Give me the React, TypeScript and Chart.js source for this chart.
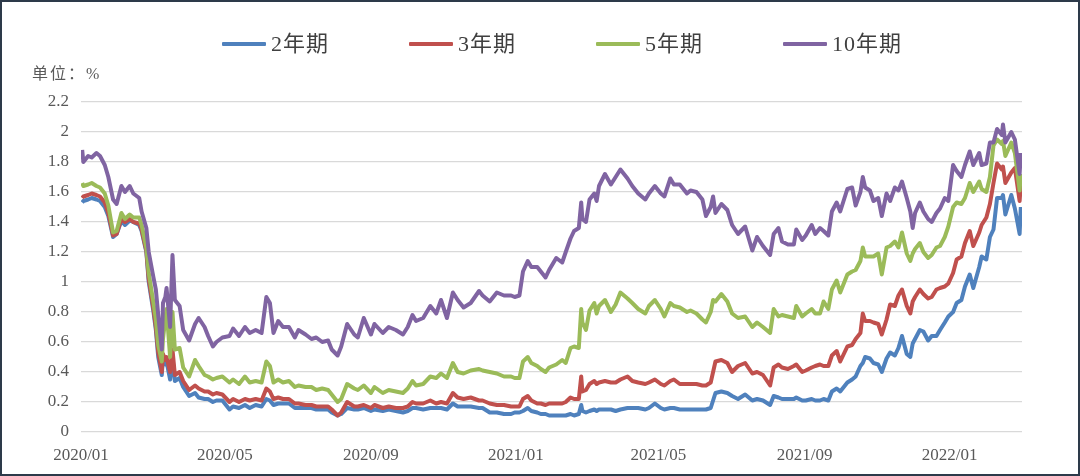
import React, { useEffect, useRef } from 'react';
import { Chart, registerables } from 'chart.js';

Chart.register(...registerables);

// trading dates (roughly weekly, denser where the lines jump)
const dates = [
  // 2020
  '2020-01-02', '2020-01-03', '2020-01-07', '2020-01-10', '2020-01-14', '2020-01-17', '2020-01-21', '2020-01-24', '2020-01-28', '2020-01-31',
  '2020-02-04', '2020-02-07', '2020-02-11', '2020-02-14', '2020-02-19', '2020-02-21', '2020-02-25', '2020-02-27',
  '2020-03-02', '2020-03-04', '2020-03-06', '2020-03-09', '2020-03-10', '2020-03-12', '2020-03-13', '2020-03-16', '2020-03-18', '2020-03-20', '2020-03-24', '2020-03-27',
  '2020-04-01', '2020-04-06', '2020-04-09', '2020-04-14', '2020-04-17', '2020-04-21', '2020-04-24', '2020-04-29',
  '2020-05-05', '2020-05-08', '2020-05-13', '2020-05-18', '2020-05-22', '2020-05-27',
  '2020-06-01', '2020-06-05', '2020-06-08', '2020-06-11', '2020-06-15', '2020-06-19', '2020-06-24', '2020-06-29',
  '2020-07-02', '2020-07-08', '2020-07-13', '2020-07-17', '2020-07-22', '2020-07-27', '2020-07-30',
  '2020-08-04', '2020-08-07', '2020-08-12', '2020-08-18', '2020-08-21', '2020-08-26',
  '2020-09-01', '2020-09-04', '2020-09-11', '2020-09-16', '2020-09-22', '2020-09-28',
  '2020-10-02', '2020-10-06', '2020-10-09', '2020-10-15', '2020-10-21', '2020-10-26', '2020-10-30',
  '2020-11-04', '2020-11-09', '2020-11-13', '2020-11-18', '2020-11-24',
  '2020-12-01', '2020-12-04', '2020-12-10', '2020-12-16', '2020-12-22', '2020-12-28', '2020-12-31',
  // 2021
  '2021-01-04', '2021-01-07', '2021-01-11', '2021-01-14', '2021-01-19', '2021-01-22', '2021-01-26', '2021-01-29',
  '2021-02-04', '2021-02-09', '2021-02-12', '2021-02-16', '2021-02-19', '2021-02-23', '2021-02-25', '2021-02-26',
  '2021-03-01', '2021-03-04', '2021-03-08', '2021-03-10', '2021-03-12', '2021-03-17', '2021-03-22', '2021-03-26', '2021-03-30',
  '2021-04-05', '2021-04-09', '2021-04-14', '2021-04-20', '2021-04-23', '2021-04-28',
  '2021-05-03', '2021-05-06', '2021-05-11', '2021-05-14', '2021-05-19', '2021-05-25', '2021-05-28',
  '2021-06-02', '2021-06-07', '2021-06-10', '2021-06-14', '2021-06-16', '2021-06-18', '2021-06-23', '2021-06-28',
  '2021-07-02', '2021-07-07', '2021-07-13', '2021-07-19', '2021-07-23', '2021-07-28',
  '2021-08-03', '2021-08-06', '2021-08-10', '2021-08-13', '2021-08-18', '2021-08-23', '2021-08-25', '2021-08-30',
  '2021-09-02', '2021-09-07', '2021-09-10', '2021-09-14', '2021-09-17', '2021-09-21', '2021-09-24', '2021-09-28',
  '2021-10-01', '2021-10-07', '2021-10-11', '2021-10-14', '2021-10-18', '2021-10-20', '2021-10-22', '2021-10-26', '2021-10-29',
  '2021-11-02', '2021-11-05', '2021-11-09', '2021-11-12', '2021-11-16', '2021-11-19', '2021-11-22', '2021-11-26', '2021-11-29',
  '2021-12-01', '2021-12-03', '2021-12-07', '2021-12-10', '2021-12-14', '2021-12-17', '2021-12-21', '2021-12-24', '2021-12-28', '2021-12-31',
  // 2022
  '2022-01-04', '2022-01-07', '2022-01-11', '2022-01-14', '2022-01-18', '2022-01-21', '2022-01-26', '2022-01-28',
  '2022-02-01', '2022-02-04', '2022-02-07', '2022-02-10', '2022-02-14', '2022-02-15', '2022-02-17', '2022-02-22', '2022-02-25',
  '2022-03-01', '2022-03-02',
];

// 2年期
const y2 = [
  1.53, 1.54, 1.55, 1.56, 1.55, 1.54, 1.50, 1.44, 1.30, 1.32,
  1.41, 1.38, 1.41, 1.40, 1.38, 1.34, 1.20, 1.00,
  0.80, 0.68, 0.50, 0.38, 0.50, 0.45, 0.47, 0.35, 0.50, 0.34, 0.36, 0.30,
  0.24, 0.26, 0.23, 0.22, 0.22, 0.20, 0.21, 0.21,
  0.15, 0.17, 0.16, 0.18, 0.16, 0.18,
  0.17, 0.22, 0.21, 0.18, 0.19, 0.19, 0.19, 0.16,
  0.16, 0.16, 0.16, 0.15, 0.15, 0.15, 0.13,
  0.11, 0.12, 0.16, 0.15, 0.15, 0.16,
  0.14, 0.15, 0.14, 0.15, 0.14, 0.13,
  0.14, 0.16, 0.16, 0.15, 0.16, 0.16, 0.16,
  0.15, 0.19, 0.17, 0.17, 0.17,
  0.16, 0.16, 0.13, 0.13, 0.12, 0.12, 0.13,
  0.13, 0.14, 0.16, 0.14, 0.13, 0.12, 0.12, 0.11,
  0.11, 0.11, 0.11, 0.12, 0.11, 0.12, 0.18, 0.14,
  0.13, 0.14, 0.15, 0.14, 0.15, 0.15, 0.15, 0.14, 0.15,
  0.16, 0.16, 0.16, 0.15, 0.16, 0.19,
  0.16, 0.15, 0.16, 0.16, 0.15, 0.15, 0.15,
  0.15, 0.15, 0.15, 0.16, 0.21, 0.26, 0.27, 0.26,
  0.24, 0.22, 0.25, 0.21, 0.22, 0.21,
  0.18, 0.24, 0.23, 0.22, 0.22, 0.22, 0.23, 0.21,
  0.21, 0.22, 0.21, 0.21, 0.22, 0.21, 0.27, 0.29,
  0.27, 0.33, 0.35, 0.37, 0.44, 0.46, 0.50, 0.49, 0.46,
  0.45, 0.40, 0.49, 0.53, 0.51, 0.56, 0.64, 0.52, 0.50,
  0.59, 0.62, 0.68, 0.67, 0.61, 0.64, 0.64, 0.68, 0.73, 0.77,
  0.80, 0.86, 0.88, 0.97, 1.05, 0.96, 1.10, 1.17,
  1.15, 1.30, 1.35, 1.56, 1.56, 1.58, 1.45, 1.58, 1.49,
  1.32, 1.50,
];

// 3年期
const y3 = [
  1.56, 1.57, 1.58, 1.59, 1.58, 1.57, 1.53, 1.46, 1.31, 1.32,
  1.42, 1.40, 1.42, 1.40, 1.39, 1.35, 1.21, 1.02,
  0.82, 0.70, 0.53, 0.40, 0.52, 0.48, 0.50, 0.40, 0.55, 0.38, 0.40, 0.34,
  0.28, 0.31, 0.29, 0.27, 0.27, 0.25, 0.26, 0.25,
  0.20, 0.22, 0.20, 0.22, 0.21, 0.22,
  0.21, 0.29, 0.27, 0.22, 0.23, 0.22, 0.22, 0.19,
  0.19, 0.18, 0.18, 0.17, 0.17, 0.17, 0.15,
  0.11, 0.13, 0.20, 0.17, 0.17, 0.18,
  0.16, 0.18, 0.16, 0.17, 0.16, 0.16,
  0.17, 0.20, 0.19, 0.19, 0.21, 0.19, 0.20,
  0.19, 0.26, 0.23, 0.22, 0.23,
  0.21, 0.21, 0.19, 0.18, 0.18, 0.17, 0.17,
  0.17, 0.22, 0.24, 0.21, 0.19, 0.19, 0.18, 0.19,
  0.19, 0.19, 0.20, 0.23, 0.22, 0.22, 0.37, 0.27,
  0.28, 0.32, 0.34, 0.32, 0.33, 0.34, 0.33, 0.33, 0.35,
  0.37, 0.34, 0.33, 0.32, 0.33, 0.35,
  0.32, 0.31, 0.34, 0.35, 0.32, 0.32, 0.32,
  0.32, 0.31, 0.31, 0.33, 0.40, 0.47, 0.48, 0.46,
  0.40, 0.44, 0.46, 0.39, 0.40, 0.38,
  0.31, 0.43, 0.45, 0.43, 0.42, 0.44, 0.45, 0.40,
  0.41, 0.43, 0.44, 0.45, 0.44, 0.44, 0.51, 0.54,
  0.47, 0.57, 0.58, 0.62, 0.66, 0.79, 0.74, 0.74, 0.73,
  0.72, 0.65, 0.75, 0.85, 0.84, 0.91, 0.95, 0.84, 0.79,
  0.87, 0.90, 0.95, 0.92, 0.89, 0.90, 0.95, 0.96, 0.97, 0.99,
  1.06, 1.15, 1.17, 1.26, 1.34, 1.24, 1.33, 1.38,
  1.43, 1.52, 1.66, 1.79, 1.75, 1.77, 1.66, 1.73, 1.76,
  1.54, 1.65,
];

// 5年期
const y5 = [
  1.66, 1.64, 1.65, 1.66, 1.64, 1.63, 1.59, 1.51, 1.33, 1.34,
  1.46, 1.42, 1.45, 1.43, 1.43, 1.38, 1.23, 1.06,
  0.86, 0.75, 0.58, 0.47, 0.62, 0.76, 0.82, 0.50, 0.80, 0.55, 0.56, 0.43,
  0.37, 0.48, 0.44, 0.38, 0.37, 0.35, 0.36, 0.37,
  0.33, 0.35, 0.32, 0.37, 0.33, 0.34,
  0.33, 0.47, 0.44, 0.33, 0.35, 0.33, 0.34, 0.30,
  0.31, 0.30, 0.30, 0.28, 0.29, 0.28, 0.25,
  0.20, 0.22, 0.32, 0.29, 0.28, 0.31,
  0.26, 0.30, 0.26, 0.28, 0.27, 0.26,
  0.29, 0.34, 0.31, 0.32, 0.37, 0.36, 0.39,
  0.36, 0.46, 0.40, 0.39, 0.41,
  0.42, 0.41, 0.40, 0.39, 0.37, 0.37, 0.36,
  0.36, 0.47, 0.50, 0.46, 0.44, 0.42, 0.40, 0.43,
  0.45, 0.48, 0.46, 0.56, 0.57, 0.56, 0.82, 0.73,
  0.68, 0.81, 0.86, 0.79, 0.84, 0.88, 0.80, 0.85, 0.93,
  0.89, 0.86, 0.82, 0.79, 0.84, 0.88,
  0.82, 0.77, 0.86, 0.84, 0.83, 0.80, 0.81,
  0.79, 0.75, 0.73, 0.80, 0.88, 0.87, 0.92, 0.87,
  0.79, 0.76, 0.77, 0.70, 0.73, 0.70,
  0.66, 0.82, 0.77, 0.78, 0.77, 0.76, 0.84, 0.77,
  0.79, 0.82, 0.79, 0.79, 0.87, 0.82, 0.95, 1.01,
  0.93, 1.05, 1.07, 1.08, 1.14, 1.23, 1.17, 1.17, 1.17,
  1.19, 1.05, 1.23, 1.24, 1.27, 1.23, 1.33, 1.19, 1.14,
  1.19, 1.22, 1.26, 1.20, 1.16, 1.18, 1.23, 1.24, 1.30, 1.37,
  1.50, 1.53, 1.52, 1.56, 1.66, 1.60, 1.67, 1.62,
  1.60, 1.70, 1.91, 1.95, 1.92, 1.94, 1.84, 1.93, 1.86,
  1.61, 1.72,
];

// 10年期
const y10 = [
  1.88, 1.80, 1.84, 1.83, 1.86, 1.84, 1.78, 1.70, 1.55, 1.52,
  1.64, 1.60, 1.64, 1.59, 1.56, 1.47, 1.36, 1.20,
  1.03, 0.95, 0.78, 0.55, 0.86, 0.90, 0.96, 0.70, 1.18, 0.88, 0.84, 0.68,
  0.61, 0.72, 0.76, 0.70, 0.64, 0.57, 0.60, 0.63,
  0.64, 0.69, 0.64, 0.70, 0.66, 0.68,
  0.66, 0.90, 0.86, 0.66, 0.74, 0.70, 0.70, 0.63,
  0.68, 0.65, 0.62, 0.63, 0.60, 0.61, 0.55,
  0.51, 0.57, 0.72, 0.65, 0.63, 0.76,
  0.65, 0.72, 0.66, 0.70, 0.68, 0.65,
  0.70, 0.78, 0.74, 0.76, 0.84, 0.79, 0.88,
  0.76, 0.93, 0.88, 0.83, 0.86,
  0.94, 0.91, 0.87, 0.93, 0.91, 0.91, 0.90,
  0.91, 1.07, 1.14, 1.10, 1.10, 1.07, 1.03, 1.08,
  1.16, 1.13, 1.20, 1.29, 1.34, 1.36, 1.53, 1.42,
  1.40, 1.55, 1.59, 1.54, 1.64, 1.72, 1.65, 1.70, 1.75,
  1.69, 1.64, 1.59, 1.55, 1.59, 1.64,
  1.59, 1.57, 1.69, 1.65, 1.65, 1.59, 1.61,
  1.60, 1.55, 1.44, 1.50, 1.57, 1.46, 1.52, 1.48,
  1.38, 1.32, 1.37, 1.21, 1.30, 1.24,
  1.18, 1.32, 1.36, 1.27, 1.25, 1.25, 1.35, 1.28,
  1.31, 1.38, 1.32, 1.36, 1.34, 1.31, 1.47, 1.53,
  1.47, 1.62, 1.63, 1.51, 1.60, 1.70, 1.63, 1.61, 1.54,
  1.56, 1.44, 1.59, 1.54, 1.63, 1.61, 1.67, 1.56, 1.47,
  1.36, 1.46, 1.53, 1.47, 1.42, 1.40, 1.46, 1.49, 1.56, 1.54,
  1.78, 1.74, 1.70, 1.78, 1.87, 1.78, 1.86, 1.78,
  1.79, 1.93, 1.93, 2.02, 1.98, 2.05, 1.93, 2.00, 1.95,
  1.72, 1.86,
];

const seriesNames = ['2年期', '3年期', '5年期', '10年期'];
const seriesValues = [y2, y3, y5, y10];
const seriesColors = ['#4F81BD', '#C0504D', '#9BBB59', '#8064A2'];

const tickDates = ['2020-01-01', '2020-05-01', '2020-09-01', '2021-01-01', '2021-05-01', '2021-09-01', '2022-01-01'];
const tickLabels = ['2020/01', '2020/05', '2020/09', '2021/01', '2021/05', '2021/09', '2022/01'];
const axisEnd = '2022-03-03';

const yMax = 2.2;
const yStep = 0.2;

const serif = '"Liberation Serif", "Noto Sans CJK SC", serif';

const t0 = Date.parse('2020-01-01');
const toDay = (d: string) => Math.round((Date.parse(d) - t0) / 86400000);

function App() {
  const canvasRef = useRef<HTMLCanvasElement>(null);

  useEffect(() => {
    document.body.style.margin = '0';
    if (!canvasRef.current) return;

    const xs = dates.map(toDay);
    const tickDays = tickDates.map(toDay);

    const chart = new Chart(canvasRef.current, {
      type: 'line',
      data: {
        datasets: seriesNames.map((name, i) => ({
          label: name,
          data: seriesValues[i].map((v, j) => ({ x: xs[j], y: v })),
          borderColor: seriesColors[i],
          backgroundColor: seriesColors[i],
          borderWidth: 4,
          borderJoinStyle: 'round' as const,
          pointRadius: 0,
          tension: 0,
          order: seriesNames.length - i, // 10年期 ends up on top, like excel
        })),
      },
      options: {
        animation: false,
        responsive: true,
        maintainAspectRatio: false,
        layout: { padding: { left: 0, right: 58, top: 102, bottom: 0 } },
        plugins: {
          legend: { display: false },
          tooltip: { enabled: false },
        },
        scales: {
          x: {
            type: 'linear',
            min: 0,
            max: toDay(axisEnd),
            afterBuildTicks: (scale: any) => {
              scale.ticks = tickDays.map(v => ({ value: v }));
            },
            afterFit: (scale: any) => {
              scale.height = 44;
            },
            grid: { display: false },
            border: { display: false },
            ticks: {
              autoSkip: false,
              maxRotation: 0,
              padding: 5,
              color: '#595959',
              font: { family: serif, size: 17 },
              callback: (v: any) => {
                const idx = tickDays.indexOf(Number(v));
                return idx >= 0 ? tickLabels[idx] : '';
              },
            },
          },
          y: {
            min: 0,
            max: yMax,
            afterFit: (scale: any) => {
              scale.width = 81;
            },
            grid: { color: '#d9d9d9', lineWidth: 1.2, drawTicks: false },
            border: { display: false },
            ticks: {
              stepSize: yStep,
              padding: 12,
              color: '#595959',
              font: { family: serif, size: 17 },
              // excel style: 1 and 2, not 1.0 and 2.0
              callback: (v: any) => String(Number(Number(v).toFixed(1))),
            },
          },
        },
      },
    });

    return () => {
      chart.destroy();
    };
  }, []);

  return (
    <div style={{ position: 'relative', width: 1080, height: 476, background: '#fff', overflow: 'hidden' }}>
      <canvas ref={canvasRef} />
      {/* legend */}
      <div style={{ position: 'absolute', left: 222, top: 31, display: 'flex' }}>
        {seriesNames.map((name, i) => (
          <div key={name} style={{ width: 187, display: 'flex', alignItems: 'center', height: 26 }}>
            <span style={{ width: 44, height: 4, background: seriesColors[i], marginRight: 5, borderRadius: 1 }} />
            <span style={{ fontFamily: serif, fontSize: 22, lineHeight: '26px', color: '#404040', letterSpacing: 1 }}>
              {name}
            </span>
          </div>
        ))}
      </div>
      <div
        style={{
          position: 'absolute',
          left: 32,
          top: 64,
          fontFamily: serif,
          fontSize: 16,
          lineHeight: '20px',
          color: '#595959',
          letterSpacing: 2,
        }}
      >
        单位：%
      </div>
      <div
        style={{
          position: 'absolute',
          inset: 0,
          border: '2px solid #2d3a4a',
          boxSizing: 'border-box',
          pointerEvents: 'none',
        }}
      />
    </div>
  );
}

export default App;
